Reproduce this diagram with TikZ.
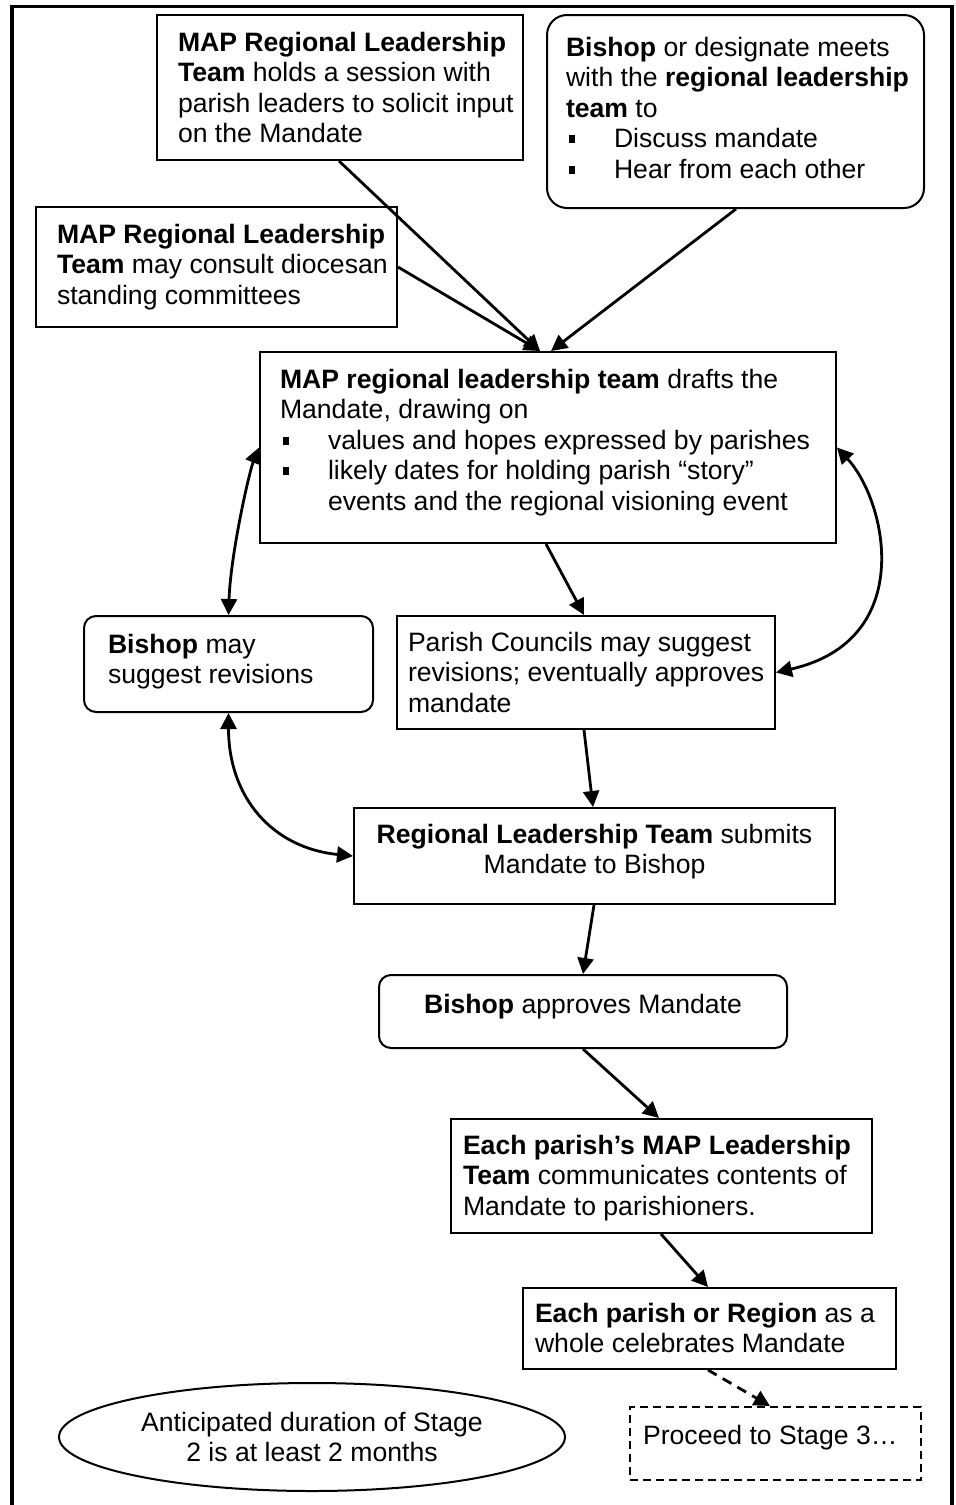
\documentclass[tikz,border=0pt]{standalone}
\usepackage{fontspec}
\setmainfont{Liberation Sans}
\usetikzlibrary{arrows.meta,calc,shapes.geometric}
\newdimen\px \px=0.5pt
\newcommand\bx[5]{\begin{minipage}[t][#2\px][t]{#1\px}\parskip=0pt\leftskip=#3\px\rightskip=-40pt plus 1fil\parfillskip=0pt plus 1fil\noindent\rule{0pt}{#4\px}#5\end{minipage}}
\newcommand\cbx[4]{\begin{minipage}[t][#2\px][t]{#1\px}\parskip=0pt\centering\noindent\rule{0pt}{#3\px}#4\end{minipage}}
\newcommand\itm{\par\hangindent=48\px\hangafter=1\noindent\makebox[48\px][l]{\hspace*{3\px}\rule[2.3pt]{3.2pt}{4pt}}}
\tikzset{
  bbox/.style={draw, line width=1pt, inner sep=0pt, anchor=north west, font=\fontsize{13.3pt}{15.3pt}\selectfont},
  rbox/.style={bbox, rounded corners=6pt},
  bigrbox/.style={bbox, rounded corners=10pt},
  dbox/.style={bbox, line width=1.1pt, dash pattern=on 4pt off 2.5pt},
  conn/.style={line width=1.4pt, -{Triangle[length=8pt,width=8pt]}},
  dconn/.style={conn, dash pattern=on 5pt off 3.5pt},
  biconn/.style={line width=1.4pt, {Triangle[length=8pt,width=8pt]}-{Triangle[length=8pt,width=8pt]}},
  frame/.style={line width=1.6pt},
}
\begin{document}
\begin{tikzpicture}[x=0.5pt,y=-0.5pt]
\useasboundingbox (0,0) rectangle (956,1505);
\draw[frame] (12,1505) -- (12,6.5) -- (952,6.5) -- (952,1505);

\node[bbox] (b1) at (156,14) {\bx{366}{145}{21}{36}{\textbf{MAP Regional Leadership}\newline\textbf{Team} holds a session with\newline parish leaders to solicit input\newline on the Mandate}};
\node[bigrbox] (b2) at (546,14) {\bx{377}{193}{19}{41}{\textbf{Bishop} or designate meets\newline with the \textbf{regional leadership}\newline\textbf{team} to\itm Discuss mandate\itm Hear from each other}};
\node[bbox] (b3) at (35,206) {\bx{361}{120}{21}{36}{\textbf{MAP Regional Leadership}\newline\textbf{Team} may consult diocesan\newline standing committees}};
\node[bbox] (b4) at (259,351) {\bx{576}{191}{20}{36}{\textbf{MAP regional leadership team} drafts the\newline Mandate, drawing on\itm values and hopes expressed by parishes\itm likely dates for holding parish “story”\newline events and the regional visioning event}};
\node[rbox] (b5) at (83,615) {\bx{289}{96}{24}{37}{\textbf{Bishop} may\newline suggest revisions}};
\node[bbox] (b6) at (396,615) {\bx{378}{113}{11}{35}{Parish Councils may suggest\newline revisions; eventually approves\newline mandate}};
\node[bbox] (b7) at (353,807) {\cbx{481}{96}{35}{\textbf{Regional Leadership Team} submits\\Mandate to Bishop}};
\node[rbox] (b8) at (378,974) {\cbx{408}{73}{38}{\textbf{Bishop} approves Mandate}};
\node[bbox] (b9) at (450,1118) {\bx{421}{114}{12}{35}{\textbf{Each parish’s MAP Leadership}\newline\textbf{Team} communicates contents of\newline Mandate to parishioners.}};
\node[bbox] (b10) at (522,1287) {\bx{373}{81}{12}{34}{\textbf{Each parish or Region} as a\newline whole celebrates Mandate}};
\node[dbox] (b11) at (629,1406) {\bx{291}{73}{13}{37}{Proceed to Stage 3…}};
\node[draw, ellipse, line width=1pt, inner sep=0pt, minimum width=253pt, minimum height=54pt, align=center, font=\fontsize{13.3pt}{15.3pt}\selectfont] (el) at (312,1437) {Anticipated duration of Stage\\2 is at least 2 months};

\draw[conn] ($(b1.south west)+(183,0)$) -- ($(b4.north west)+(281,0)$);
\draw[conn] (b3.east) -- ($(b4.north west)+(281,0)$);
\draw[conn] ($(b2.south west)+(190,0)$) -- ($(b4.north west)+(292,0)$);
\draw[conn] ($(b4.south west)+(287,0)$) -- ($(b6.north west)+(188,0)$);
\draw[conn] ($(b6.south west)+(188,0)$) -- ($(b7.north west)+(240,0)$);
\draw[conn] ($(b7.south west)+(241,0)$) -- (b8.north);
\draw[conn] (b8.south) -- ($(b9.north west)+(209,0)$);
\draw[conn] ($(b9.south west)+(211,0)$) -- ($(b10.north west)+(186,0)$);
\draw[dconn] ($(b10.south west)+(186,0)$) -- ($(b11.north west)+(141,0)$);

\draw[biconn] (b4.west) .. controls +(-10,25) and +(2,-60) .. (b5.north);
\draw[biconn] (b5.south) .. controls +(0,85) and +(-80,-8) .. (b7.west);
\draw[biconn] (b4.east) .. controls +(50,54) and +(141,-32) .. (b6.east);
\end{tikzpicture}
\end{document}
